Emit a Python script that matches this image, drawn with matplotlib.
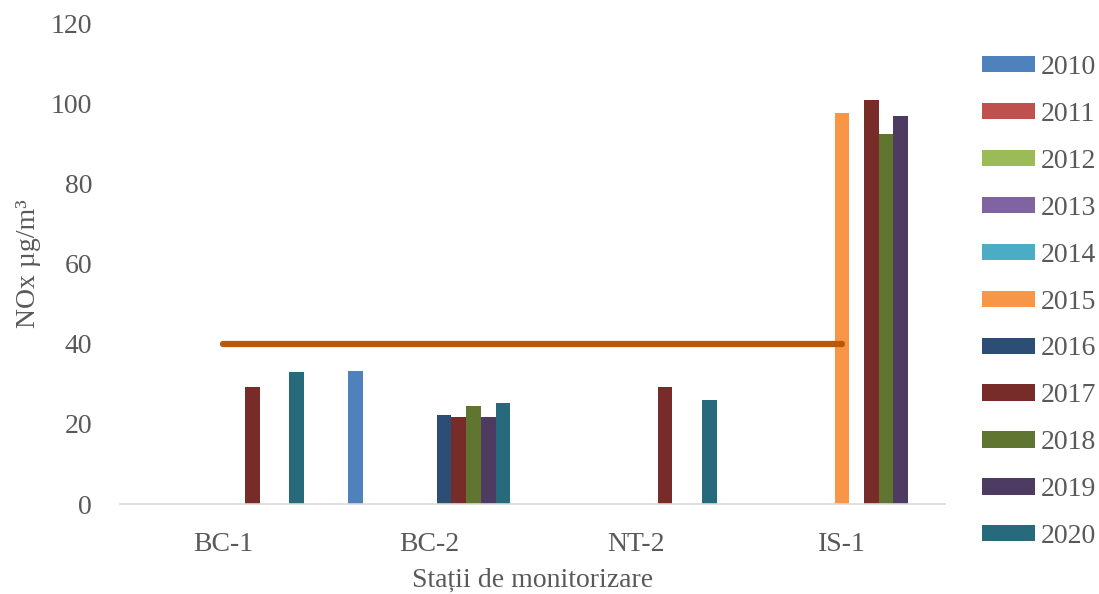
import numpy as np
import matplotlib
matplotlib.use("Agg")
import matplotlib.pyplot as plt

stations = ["BC-1", "BC-2", "NT-2", "IS-1"]
years = ["2010", "2011", "2012", "2013", "2014", "2015", "2016", "2017", "2018", "2019", "2020"]
nan = np.nan
v2010 = [nan, 33.2, nan, nan]
v2011 = [nan, nan, nan, nan]
v2012 = [nan, nan, nan, nan]
v2013 = [nan, nan, nan, nan]
v2014 = [nan, nan, nan, nan]
v2015 = [nan, nan, nan, 97.5]
v2016 = [nan, 22.3, nan, nan]
v2017 = [29.2, 21.7, 29.1, 100.7]
v2018 = [nan, 24.5, nan, 92.4]
v2019 = [nan, 21.7, nan, 96.9]
v2020 = [32.9, 25.2, 25.9, nan]
limit = [40, 40, 40, 40]

series = [v2010, v2011, v2012, v2013, v2014, v2015, v2016, v2017, v2018, v2019, v2020]
colors = ["#4F81BD", "#C0504D", "#9BBB59", "#8064A2", "#4BACC6", "#F79646",
          "#2C4D75", "#772C2A", "#5F7530", "#4D3B62", "#276A7C"]

plt.rcParams['font.family'] = ['Liberation Serif', 'DejaVu Serif']
txt = "#595959"

fig = plt.figure(figsize=(10.99, 5.94), dpi=100)
ax = fig.add_axes([120/1099, 1-504/594, (945-120)/1099, (504-23)/594])

n = len(series)
gap = 3.0
w = 1.0 / (n + gap)
x = np.arange(len(stations))
for j, (vals, c, yr) in enumerate(zip(series, colors, years)):
    ax.bar(x + (j - (n - 1) / 2) * w, vals, width=w, color=c, label=yr, zorder=2)

ax.plot(x, limit, color="#BA580A", lw=4.5, solid_capstyle="round", zorder=3)

ax.set_xlim(-0.5, 3.5)
ax.set_ylim(0, 120)
ax.set_yticks(np.arange(0, 121, 20))
ax.set_xticks(x)
ax.set_xticklabels(stations)
for s in ["top", "right", "left"]:
    ax.spines[s].set_visible(False)
ax.spines["bottom"].set_color("#D9D9D9")
ax.spines["bottom"].set_linewidth(1.2)
ax.tick_params(axis="y", length=0, pad=20, labelsize=20, labelcolor=txt)
ax.tick_params(axis="x", length=0, pad=20, labelsize=20, labelcolor=txt)

ax.set_ylabel("NOx µg/m³", fontsize=20, color=txt, labelpad=7)
ax.set_xlabel("Stații de monitorizare", fontsize=20, color=txt, labelpad=8)

leg = fig.legend(loc="center left", bbox_to_anchor=(982/1099, 1-302/594),
                 frameon=False, fontsize=20, handlelength=1.9, handleheight=0.52,
                 handletextpad=0.22, labelspacing=0.79, borderpad=0, borderaxespad=0)
for t in leg.get_texts():
    t.set_color(txt)

fig.savefig("out.png", dpi=100)
